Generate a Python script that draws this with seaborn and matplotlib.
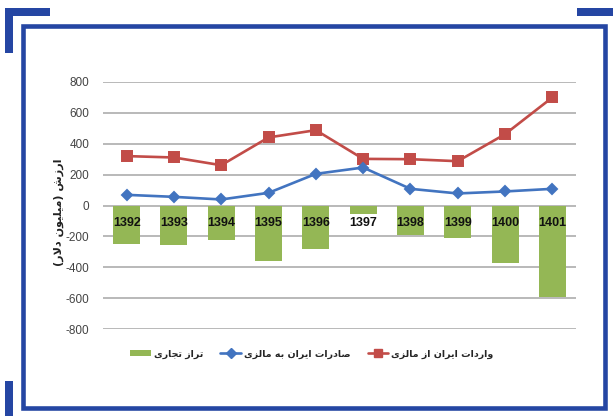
import matplotlib
matplotlib.use("Agg")
import matplotlib.pyplot as plt
from matplotlib.patches import Rectangle, Patch
from matplotlib.lines import Line2D
import seaborn as sns
import pandas as pd

# Iran–Malaysia trade, million USD
years = ["1392", "1393", "1394", "1395", "1396", "1397", "1398", "1399", "1400", "1401"]
imports = [320, 311, 261, 441, 488, 302, 300, 287, 462, 700]
exports = [69, 56, 39, 82, 205, 246, 108, 78, 91, 108]
balance = [-251, -255, -222, -359, -283, -56, -192, -209, -371, -592]
y_ticks = [800, 600, 400, 200, 0, -200, -400, -600, -800]

label_imports = "واردات ایران از مالزی"
label_exports = "صادرات ایران به مالزی"
label_balance = "تراز تجاری"
label_value = "ارزش (میلیون دلار)"

# --- minimal Persian shaping (presentation forms + visual order) ---
FORMS = {
    "ا": ("\uFE8D", "\uFE8E", None, None), "آ": ("\uFE81", "\uFE82", None, None),
    "د": ("\uFEA9", "\uFEAA", None, None), "ذ": ("\uFEAB", "\uFEAC", None, None),
    "ر": ("\uFEAD", "\uFEAE", None, None), "ز": ("\uFEAF", "\uFEB0", None, None),
    "ژ": ("\uFB8A", "\uFB8B", None, None), "و": ("\uFEED", "\uFEEE", None, None),
    "ب": ("\uFE8F", "\uFE90", "\uFE91", "\uFE92"), "پ": ("\uFB56", "\uFB57", "\uFB58", "\uFB59"),
    "ت": ("\uFE95", "\uFE96", "\uFE97", "\uFE98"), "ث": ("\uFE99", "\uFE9A", "\uFE9B", "\uFE9C"),
    "ج": ("\uFE9D", "\uFE9E", "\uFE9F", "\uFEA0"), "چ": ("\uFB7A", "\uFB7B", "\uFB7C", "\uFB7D"),
    "ح": ("\uFEA1", "\uFEA2", "\uFEA3", "\uFEA4"), "خ": ("\uFEA5", "\uFEA6", "\uFEA7", "\uFEA8"),
    "س": ("\uFEB1", "\uFEB2", "\uFEB3", "\uFEB4"), "ش": ("\uFEB5", "\uFEB6", "\uFEB7", "\uFEB8"),
    "ص": ("\uFEB9", "\uFEBA", "\uFEBB", "\uFEBC"), "ض": ("\uFEBD", "\uFEBE", "\uFEBF", "\uFEC0"),
    "ط": ("\uFEC1", "\uFEC2", "\uFEC3", "\uFEC4"), "ظ": ("\uFEC5", "\uFEC6", "\uFEC7", "\uFEC8"),
    "ع": ("\uFEC9", "\uFECA", "\uFECB", "\uFECC"), "غ": ("\uFECD", "\uFECE", "\uFECF", "\uFED0"),
    "ف": ("\uFED1", "\uFED2", "\uFED3", "\uFED4"), "ق": ("\uFED5", "\uFED6", "\uFED7", "\uFED8"),
    "ک": ("\uFB8E", "\uFB8F", "\uFB90", "\uFB91"), "گ": ("\uFB92", "\uFB93", "\uFB94", "\uFB95"),
    "ل": ("\uFEDD", "\uFEDE", "\uFEDF", "\uFEE0"), "م": ("\uFEE1", "\uFEE2", "\uFEE3", "\uFEE4"),
    "ن": ("\uFEE5", "\uFEE6", "\uFEE7", "\uFEE8"), "ه": ("\uFEE9", "\uFEEA", "\uFEEB", "\uFEEC"),
    "ی": ("\uFBFC", "\uFBFD", "\uFBFE", "\uFBFF"),
}


def joins_forward(ch):
    return ch in FORMS and FORMS[ch][2] is not None


def rtl(text):
    out = []
    i, n = 0, len(text)
    while i < n:
        ch = text[i]
        if ch not in FORMS:
            out.append(ch)
            i += 1
            continue
        prev_joins = i > 0 and joins_forward(text[i - 1])
        if ch == "ل" and i + 1 < n and text[i + 1] == "ا":
            out.append("\uFEFC" if prev_joins else "\uFEFB")
            i += 2
            continue
        next_letter = i + 1 < n and text[i + 1] in FORMS
        iso, fin, ini, med = FORMS[ch]
        can_fwd = ini is not None and next_letter
        if prev_joins and can_fwd:
            out.append(med)
        elif prev_joins:
            out.append(fin)
        elif can_fwd:
            out.append(ini)
        else:
            out.append(iso)
        i += 1
    vis = "".join(reversed(out))
    return vis.translate(str.maketrans("()", ")("))


sns.set_theme(style="white")
plt.rcParams["font.family"] = ["DejaVu Sans"]
num_font = ["Liberation Sans Narrow", "Liberation Sans", "DejaVu Sans"]

df = pd.DataFrame({"year": years, "imports": imports, "exports": exports, "balance": balance})

c_bar = "#94b755"
c_exp = "#4274c0"
c_imp = "#c24c48"
c_frame = "#2546a3"

fig = plt.figure(figsize=(6.13, 4.16), dpi=100)
ax = fig.add_axes([103 / 613, 1 - 329 / 416, 473 / 613, 247 / 416])

sns.barplot(data=df, x="year", y="balance", color=c_bar, width=0.57,
            saturation=1, edgecolor="none", ax=ax, zorder=2)
sns.pointplot(data=df, x="year", y="imports", color=c_imp, markers="s",
              markersize=6.5, linewidth=1.9, errorbar=None, ax=ax)
sns.pointplot(data=df, x="year", y="exports", color=c_exp, markers="D",
              markersize=5.5, linewidth=1.9, errorbar=None, ax=ax)

for i, yr in enumerate(years):
    ax.text(i, -115, yr, ha="center", va="center", fontsize=9,
            fontweight="bold", color="#111111", family=num_font, zorder=5)

ax.set_ylim(-800, 800)
ax.set_xlim(-0.5, len(years) - 0.5)
ax.set_yticks(y_ticks)
ax.set_yticklabels([str(v) for v in y_ticks], family=num_font, fontsize=8.5, color="#444444")
ax.set_xticks([])
ax.set_xlabel("")
ax.set_ylabel("")
ax.tick_params(axis="y", length=0, pad=10)
ax.yaxis.grid(True, color="#b3b3b3", linewidth=1.3)
ax.set_axisbelow(True)
for s in ax.spines.values():
    s.set_visible(False)

fig.text(59 / 613, 1 - 212 / 416, rtl(label_value), rotation=90, ha="center",
         va="center", fontsize=8, fontweight="bold", color="#222222")

handles = [
    Patch(facecolor=c_bar, edgecolor="none"),
    Line2D([], [], color=c_exp, lw=1.9, marker="D", markersize=5),
    Line2D([], [], color=c_imp, lw=1.9, marker="s", markersize=6),
]
labels = [rtl(label_balance), rtl(label_exports), rtl(label_imports)]
fig.legend(handles, labels, loc="center", bbox_to_anchor=(312 / 613, 1 - 354 / 416),
           ncol=3, frameon=False, handlelength=2.2, handleheight=0.7, columnspacing=1.8,
           handletextpad=0.3, prop={"size": 6.8, "weight": "bold"})

# page frame and corner accents
fig.patches.append(Rectangle((23 / 613, 1 - 408 / 416), 582 / 613, 382 / 416,
                             transform=fig.transFigure, fill=False,
                             edgecolor=c_frame, linewidth=3.3, zorder=0))
for (x0, y0, w, h) in [(5, 8, 45, 8), (5, 8, 8, 45), (577, 8, 36, 8), (5, 381, 8, 35)]:
    fig.patches.append(Rectangle((x0 / 613, 1 - (y0 + h) / 416), w / 613, h / 416,
                                 transform=fig.transFigure, facecolor=c_frame,
                                 edgecolor="none", zorder=0))

fig.savefig("out.png", dpi=100)
